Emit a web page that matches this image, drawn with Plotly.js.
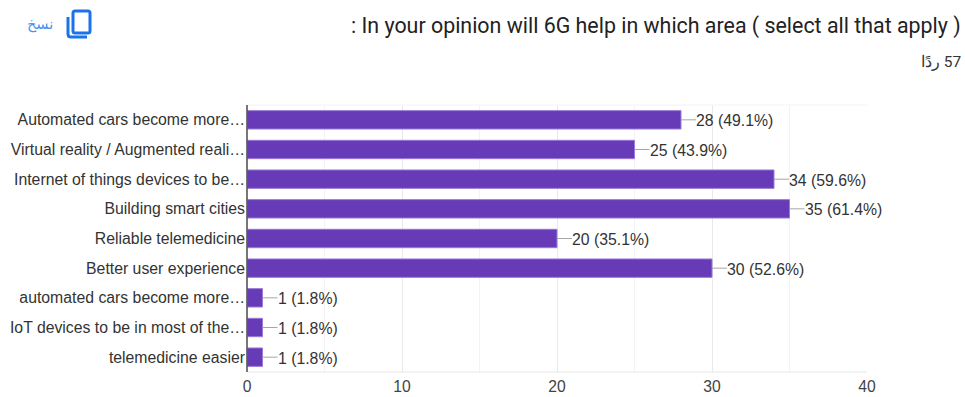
<!DOCTYPE html>
<html>
<head>
<meta charset="utf-8">
<script src="https://cdn.plot.ly/plotly-3.0.1.min.js"></script>
<style>html,body{margin:0;padding:0;background:#fff}#chart{width:965px;height:397px}</style>
</head>
<body>
<div id="chart"></div>
<script>
const categories = [
  "Automated cars become more…",
  "Virtual reality / Augmented reali…",
  "Internet of things devices to be…",
  "Building smart cities",
  "Reliable telemedicine",
  "Better user experience",
  "automated cars become more…",
  "IoT devices to be in most of the…",
  "telemedicine easier"
];
const counts = [28, 25, 34, 35, 20, 30, 1, 1, 1];
const percents = ["49.1", "43.9", "59.6", "61.4", "35.1", "52.6", "1.8", "1.8", "1.8"];
const xTicks = [0, 10, 20, 30, 40];
const leaderLength = 0.97;

const labels = counts.map((c, i) => `${c} (${percents[i]}%)`);
const W = 965, H = 397;
const margin = {l: 247, r: 98, t: 105, b: 25};
const px = x => (x - margin.l) / (W - margin.l - margin.r);
const py = y => 1 - (y - margin.t) / (H - margin.t - margin.b);

// Copy glyph in the header, built from rounded outlines
const rr = (x0, y0, x1, y1, r) =>
  `M${px(x0 + r)},${py(y0)} L${px(x1 - r)},${py(y0)} Q${px(x1)},${py(y0)} ${px(x1)},${py(y0 + r)} ` +
  `L${px(x1)},${py(y1 - r)} Q${px(x1)},${py(y1)} ${px(x1 - r)},${py(y1)} L${px(x0 + r)},${py(y1)} ` +
  `Q${px(x0)},${py(y1)} ${px(x0)},${py(y1 - r)} L${px(x0)},${py(y0 + r)} Q${px(x0)},${py(y0)} ${px(x0 + r)},${py(y0)} Z`;
const backPath = `M${px(68)},${py(17)} L${px(68)},${py(34)} Q${px(68)},${py(37)} ${px(71)},${py(37)} L${px(87)},${py(37)}`;

const traces = [
  {
    type: "bar", orientation: "h", y: categories, x: counts, width: 0.62,
    marker: {color: "#673ab7", line: {color: "#9a7ad6", width: 1}},
    error_x: {type: "data", symmetric: false, array: counts.map(() => leaderLength),
              arrayminus: counts.map(() => 0), color: "#a6a6a6", thickness: 1, width: 0},
    hoverinfo: "skip", cliponaxis: false
  }
];

// Value labels sit just past each leader line
const valueAnnotations = counts.map((c, i) => ({
  xref: "x", yref: "y", x: c + leaderLength, y: categories[i], xanchor: "left", yanchor: "middle",
  showarrow: false, text: labels[i], xshift: -1, yshift: -1, borderpad: 0,
  font: {family: "Liberation Sans, Arial, sans-serif", size: 15.8, color: "#333"}
}));

const layout = {
  width: W, height: H, margin, showlegend: false,
  paper_bgcolor: "#fff", plot_bgcolor: "#fff",
  font: {family: "Liberation Sans, Arial, sans-serif", color: "#333"},
  xaxis: {
    range: [0, 40], tickvals: xTicks, ticks: "", showgrid: true, gridcolor: "#e9e9e9", gridwidth: 1,
    minor: {dtick: 5, showgrid: true, gridcolor: "#f3f3f3", gridwidth: 1, ticks: ""},
    zeroline: false, showline: false, tickfont: {size: 15.7, color: "#444"}, ticklen: 0,
    ticklabelstandoff: 3, automargin: false
  },
  yaxis: {
    type: "category", autorange: "reversed", categoryorder: "array", categoryarray: categories,
    showgrid: false, zeroline: false, showline: false,
    ticks: "", tickfont: {size: 15.8, color: "#333"}, ticklabelstandoff: 1, automargin: false
  },
  shapes: [
    {type: "line", xref: "paper", yref: "paper", x0: 0, x1: 1, y0: 0, y1: 0, line: {color: "#e6e6e6", width: 1}},
    {type: "line", xref: "paper", yref: "paper", x0: 0, x1: 1, y0: 1, y1: 1, line: {color: "#f3f3f3", width: 1}},
    {type: "line", xref: "paper", yref: "paper", x0: 0, x1: 0, y0: 0, y1: 1, layer: "above", line: {color: "#555", width: 1.6}},
    {type: "path", xref: "paper", yref: "paper", path: rr(73, 11, 90, 33, 2), line: {color: "#1a73e8", width: 3}},
    {type: "path", xref: "paper", yref: "paper", path: backPath, line: {color: "#1a73e8", width: 3}}
  ],
  annotations: valueAnnotations.concat([
    {xref: "paper", yref: "paper", x: px(963), y: py(26), xanchor: "right", yanchor: "middle", showarrow: false,
     text: ": In your opinion will 6G help in which area ( select all that apply )",
     font: {family: "Roboto, sans-serif", size: 21.4, color: "#222"}},
    {xref: "paper", yref: "paper", x: px(964), y: py(62), xanchor: "right", yanchor: "middle", showarrow: false,
     text: "\u200f57 ردًا", font: {family: "Roboto, Noto Sans, sans-serif", size: 15.5, color: "#333"}},
    {xref: "paper", yref: "paper", x: px(55), y: py(25), xanchor: "right", yanchor: "middle", showarrow: false,
     text: "نسخ", font: {family: "DejaVu Sans, sans-serif", size: 14.5, color: "#4a90f0"}}
  ])
};

Plotly.newPlot("chart", traces, layout, {displayModeBar: false, staticPlot: true});
</script>
</body>
</html>
